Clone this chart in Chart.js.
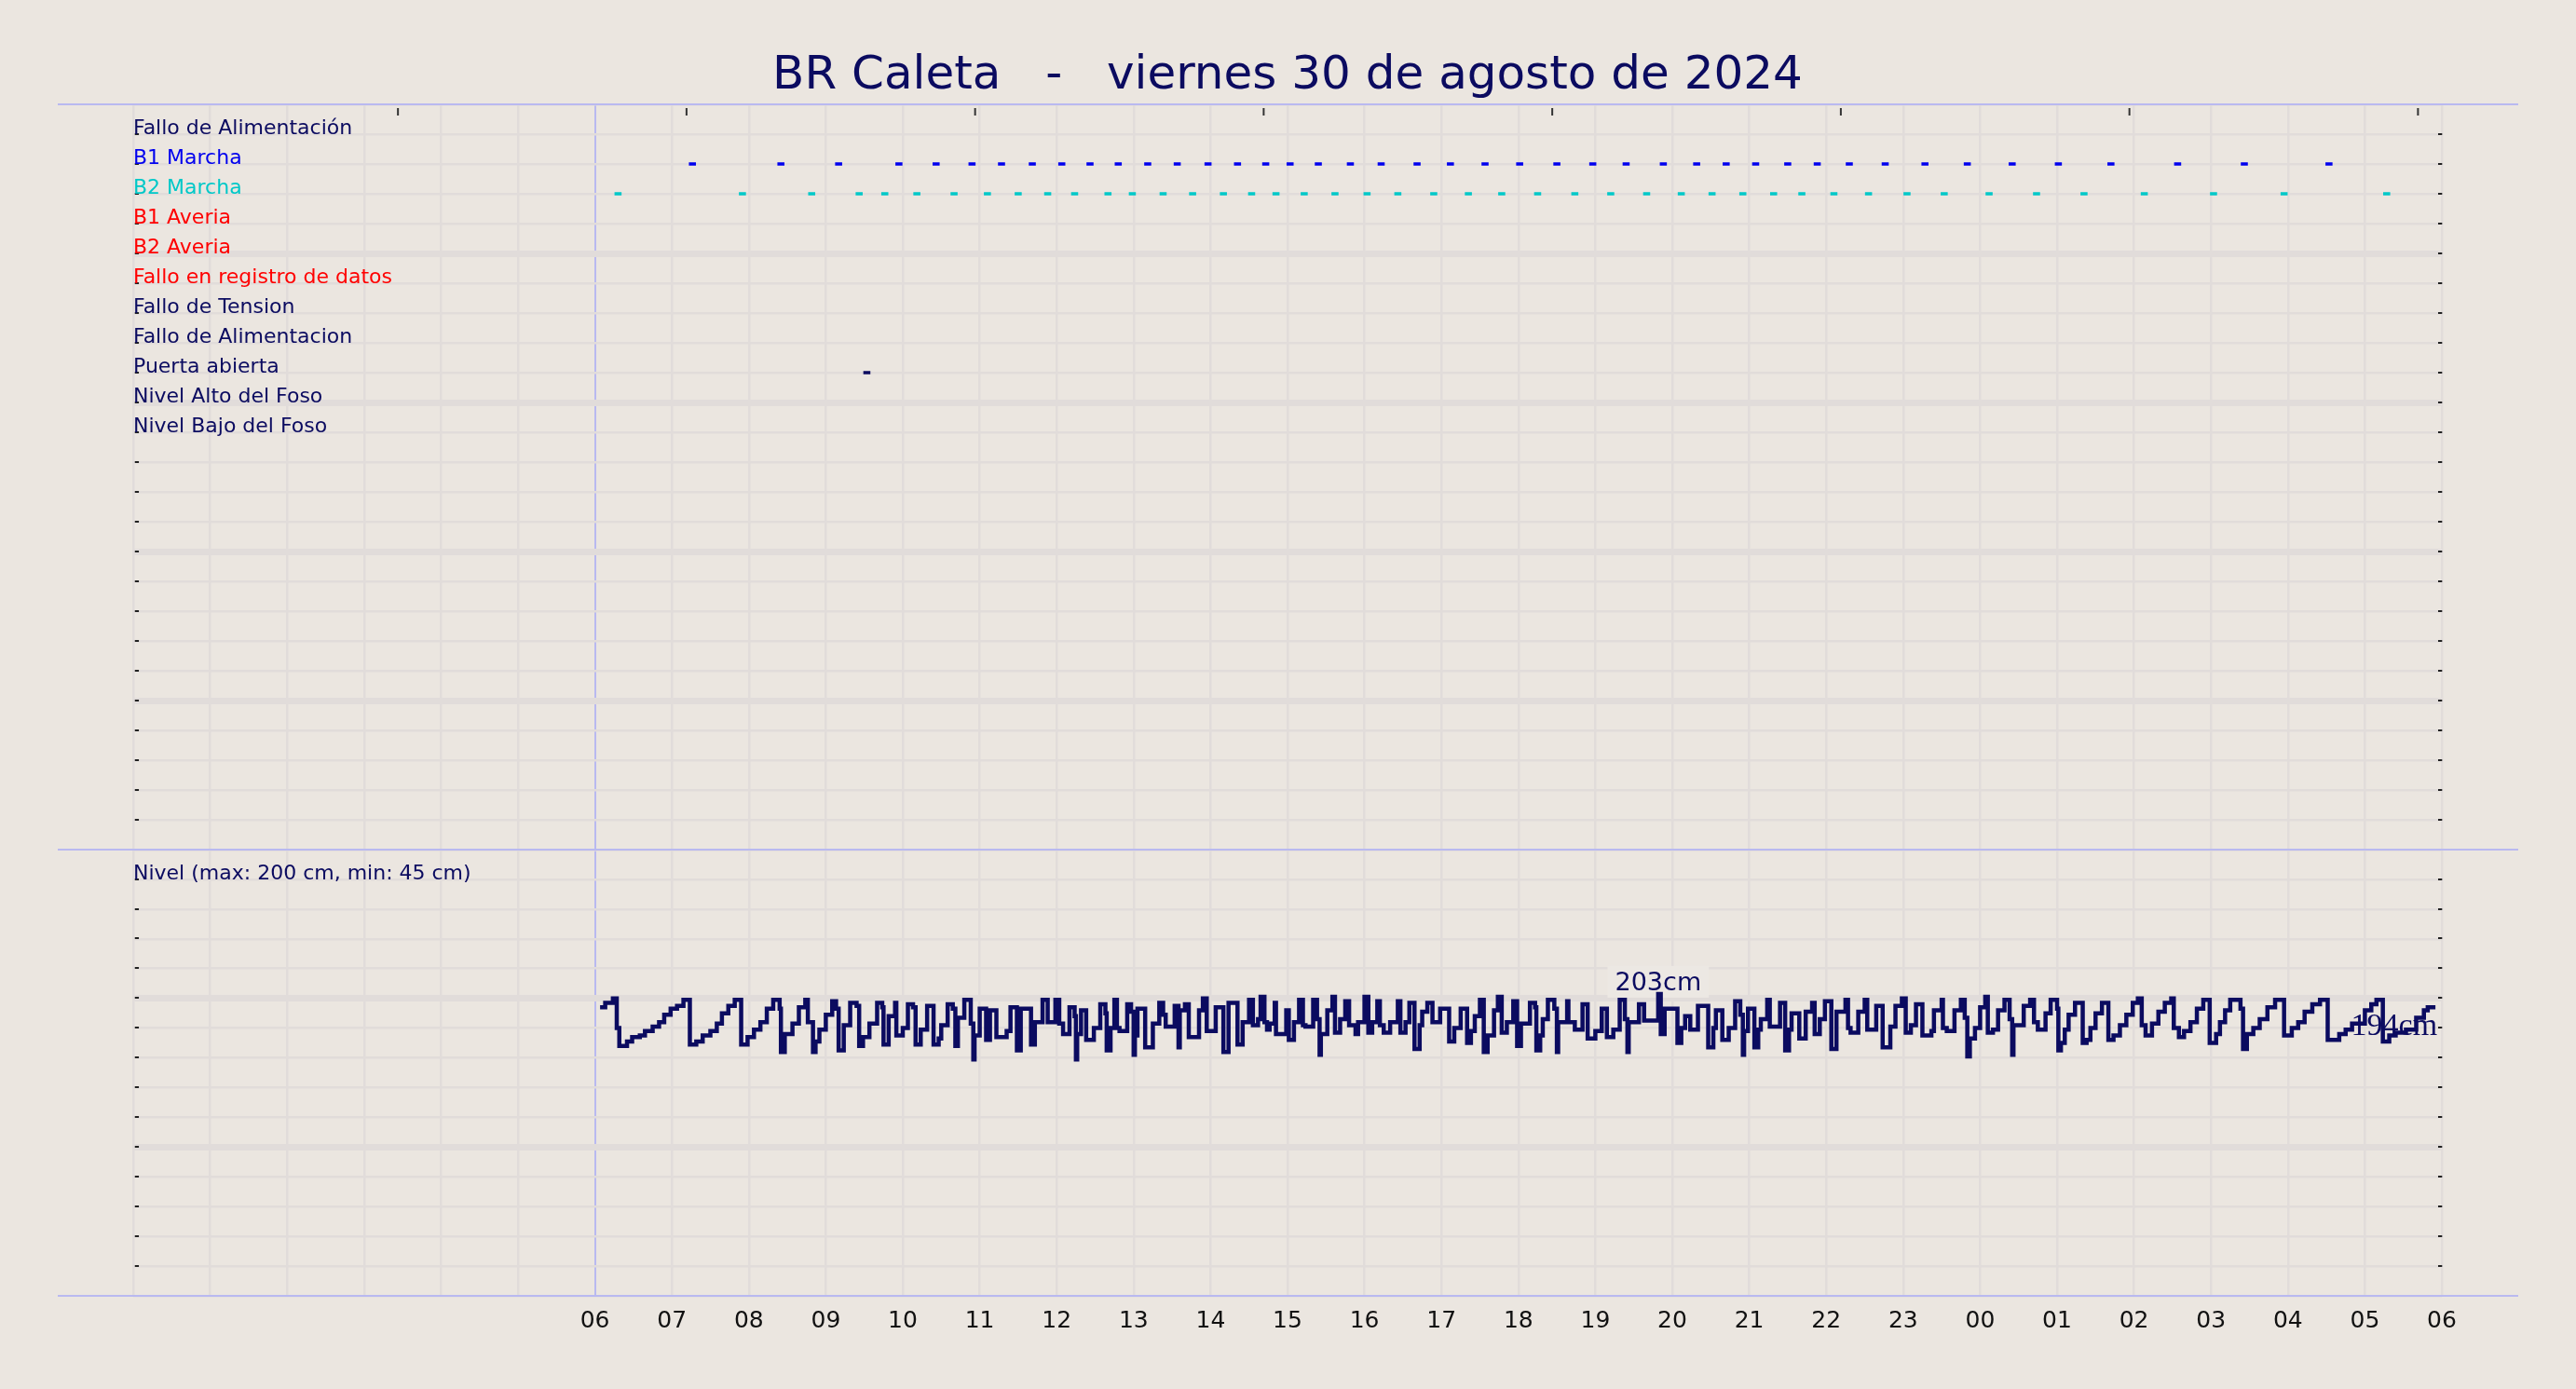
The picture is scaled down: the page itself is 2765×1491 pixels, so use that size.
<!DOCTYPE html>
<html>
<head>
<meta charset="utf-8">
<title>BR Caleta</title>
<script src="https://cdn.jsdelivr.net/npm/chart.js@4.4.1/dist/chart.umd.min.js"></script>
<style>
  html, body { margin: 0; padding: 0; background: #ebe6e0; }
  #wrap { position: relative; width: 2765px; height: 1491px; }
  canvas { position: absolute; left: 0; top: 0; }
</style>
</head>
<body>
<div id="wrap">
  <canvas id="chartLevel" width="2765" height="1491"></canvas>
  <canvas id="chartEvents" width="2765" height="1491"></canvas>
</div>
<script>
// --- datos ---
const title = "BR Caleta   -   viernes 30 de agosto de 2024";

const rowNames = ["Fallo de Alimentación", "B1 Marcha", "B2 Marcha", "B1 Averia", "B2 Averia",
  "Fallo en registro de datos", "Fallo de Tension", "Fallo de Alimentacion", "Puerta abierta",
  "Nivel Alto del Foso", "Nivel Bajo del Foso"];
const rowValues = [24, 23, 22, 21, 20, 19, 18, 17, 16, 15, 14];
const rowColors = ["#0b0b60", "#0000ee", "#00c8c8", "#ff0000", "#ff0000",
  "#ff0000", "#0b0b60", "#0b0b60", "#0b0b60", "#0b0b60", "#0b0b60"];

// eventos: minuto central desde las 00:00 del dia 30
const b1Marcha = [436, 505, 550, 597, 626, 654, 677, 701, 724, 746, 768, 791, 814, 838, 861, 883, 902, 924,
  949, 973, 1001, 1027, 1054, 1081, 1110, 1138, 1164, 1193, 1219, 1242, 1265, 1290, 1313, 1338, 1366,
  1397, 1430, 1465, 1501, 1542, 1594, 1646, 1712];
const b2Marcha = [378, 475, 529, 566, 586, 611, 640, 666, 690, 713, 734, 760, 779, 803, 826, 850, 872, 891,
  913, 937, 962, 986, 1014, 1041, 1067, 1095, 1124, 1152, 1180, 1207, 1231, 1255, 1279, 1301, 1326,
  1353, 1383, 1412, 1447, 1484, 1521, 1568, 1622, 1677, 1757];
const puertaAbierta = [572];
const dashMinutes = 5.5;

// nivel del foso (minuto, cm)
const levelMin = [
  364, 368, 374, 377, 379, 385, 389, 395, 399, 405, 410, 414, 419, 424, 429, 434, 439, 444, 450, 455,
  459, 464, 469, 474, 479, 484, 489, 494, 499, 504, 505, 508, 514, 519, 524, 526, 530, 532, 535, 540,
  545, 548, 550, 554, 559, 564, 566, 569, 574, 580, 584, 585, 589, 594, 595, 600,
  604, 608, 610, 614, 619, 624, 628, 630, 635, 639, 641, 643, 648, 653, 655, 656, 660, 665, 668, 673,
  681, 684, 689, 692, 700, 703, 709, 713, 719, 722, 725, 730, 734, 735, 736, 739, 743, 749, 754, 758,
  759, 762, 765, 767, 769, 775, 778, 780, 781, 783, 789, 795, 800, 803, 805, 812, 815, 816, 820, 823,
  831, 834, 837,
  844, 850, 854, 861, 865, 870, 873, 877, 879, 882, 884, 886, 890, 891, 899, 901, 905, 909, 912, 914,
  920, 923, 925, 926, 931, 935, 937, 941, 945, 948, 953, 955, 960, 963, 966, 970, 972, 975, 980, 986,
  988, 992, 995, 999, 1003, 1005, 1009, 1013, 1019, 1026, 1030, 1035, 1040, 1043, 1046, 1050, 1053, 1056,
  1061, 1064, 1067, 1071, 1076,
  1079, 1082, 1089, 1093, 1094, 1097, 1099, 1103, 1108, 1110, 1111, 1118, 1119, 1124, 1130, 1134, 1140,
  1145, 1149, 1154, 1159, 1163, 1165, 1166, 1174, 1178, 1189, 1191, 1194, 1204, 1207, 1210, 1214, 1220,
  1228, 1232, 1234, 1239, 1244, 1249, 1253, 1255, 1256, 1259, 1264, 1267, 1269, 1274, 1276, 1284, 1288,
  1291, 1293, 1299, 1304, 1309, 1311, 1315, 1319,
  1324, 1328, 1335, 1337, 1339, 1345, 1350, 1352, 1359, 1364, 1370, 1374, 1379, 1382, 1386, 1390, 1395,
  1402, 1404, 1410, 1411, 1414, 1420, 1425, 1428, 1430, 1432, 1436, 1440, 1444, 1446, 1450, 1454, 1459,
  1463, 1465, 1466, 1474, 1479, 1482, 1485, 1491, 1495, 1500, 1501, 1503, 1506, 1509, 1514, 1520, 1523,
  1526, 1530, 1535, 1540, 1544, 1549, 1554, 1559,
  1563, 1566, 1569, 1574, 1579, 1584, 1589, 1591, 1595, 1599, 1604, 1609, 1614, 1619, 1624, 1627, 1631,
  1635, 1643, 1645, 1648, 1653, 1658, 1664, 1670, 1677, 1683, 1688, 1693, 1699, 1705, 1711, 1720, 1725,
  1730, 1740, 1745, 1749, 1754, 1759, 1764, 1772, 1780, 1786, 1789, 1795];
const levelCm = [
  194, 197, 200, 180, 168, 171, 174, 175, 178, 181, 184, 189, 193, 195, 199, 169, 171, 175, 178, 183,
  190, 195, 199, 169, 174, 179, 184, 193, 199, 193, 164, 176, 183, 194, 199, 184, 164, 171, 179, 189,
  198, 193, 165, 182, 197, 195, 168, 174, 183, 197, 194, 169, 188, 197, 175, 180,
  196, 194, 169, 179, 195, 169, 173, 182, 196, 193, 168, 187, 199, 183, 159, 175, 193, 172, 192, 174,
  178, 194, 165, 193, 169, 184, 199, 184, 199, 183, 176, 194, 188, 159, 176, 192, 172, 180, 196, 190,
  165, 180, 199, 180, 178, 196, 191, 162, 175, 193, 167, 183, 197, 189, 181, 195, 167, 192, 196, 174,
  192, 200, 178,
  194, 164, 197, 169, 184, 199, 182, 186, 201, 184, 179, 183, 197, 176, 192, 172, 184, 199, 182, 181,
  199, 186, 162, 176, 192, 201, 177, 186, 198, 182, 176, 184, 201, 177, 184, 198, 182, 177, 184, 198,
  177, 184, 197, 166, 182, 191, 197, 184, 193, 171, 180, 193, 170, 178, 188, 199, 164, 175,
  192, 201, 177, 184, 198,
  168, 183, 197, 194, 165, 175, 186, 199, 193, 164, 184, 198, 184, 179, 196, 173, 178,
  193, 174, 179, 199, 186, 164, 184, 196, 185, 203, 176, 193, 170, 180, 188, 179, 195,
  167, 180, 192, 172, 180, 198, 189, 162, 178, 193, 167, 179, 186, 199, 181, 197, 165,
  179, 190, 173, 191, 197, 176, 186, 198,
  166, 191, 199, 180, 177, 191, 199, 179, 195, 167, 181, 195, 200, 177, 182, 196, 175,
  178, 192, 199, 180, 178, 192, 199, 187, 161, 173, 180, 194, 201, 177, 179, 192, 199,
  186, 162, 182, 195, 199, 184, 179, 190, 199, 193, 165, 170, 179, 189, 197, 170, 172,
  180, 190, 197, 172, 175, 182, 189, 197,
  200, 182, 175, 183, 191, 197, 200, 180, 174, 178, 184, 193, 199, 170, 176, 184, 192,
  199, 193, 166, 176, 180, 186, 194, 199, 175, 180, 184, 191, 196, 199, 172, 176, 179,
  183, 192, 196, 199, 171, 175, 177, 179, 187, 192, 194, 194];

const hourLabels = ["06", "07", "08", "09", "10", "11", "12", "13", "14", "15", "16", "17", "18",
  "19", "20", "21", "22", "23", "00", "01", "02", "03", "04", "05", "06"];
const topTickHours = [3.44, 7.19, 10.94, 14.69, 18.44, 22.19, 25.94, 29.69];
const nivelText = "Nivel (max: 200 cm, min: 45 cm)";

// --- estilo ---
const navy = "#0b0b60";
const gridColor = "#e1dcda";
const lavender = "#b9b9f0";
const FONT = "DejaVu Sans";

function dashes(mins, row) {
  const pts = [];
  mins.forEach(m => {
    const a = (m - dashMinutes / 2) / 60, b = (m + dashMinutes / 2) / 60;
    pts.push({ x: a, y: row }, { x: b, y: row }, { x: b, y: null });
  });
  return pts;
}

const xGrid = {
  color: c => (c.tick && c.tick.value === 6) ? lavender : gridColor,
  lineWidth: c => (c.tick && c.tick.value === 6) ? 2 : 2.5,
  drawTicks: false
};
const dashTicks = (maxV) => ({
  mirror: true, padding: 1,
  callback: v => (v > 0 && v < maxV) ? "-" : "",
  font: { family: FONT, size: 14, weight: "bold" }, color: "#222"
});

// lineas lila que cierran los paneles
const frameLines = {
  id: "frameLines",
  afterDraw(chart) {
    const { ctx, chartArea } = chart;
    ctx.save();
    ctx.strokeStyle = lavender;
    ctx.lineWidth = 2;
    [chartArea.top, chartArea.bottom].forEach(y => {
      ctx.beginPath(); ctx.moveTo(62, y); ctx.lineTo(2703, y); ctx.stroke();
    });
    ctx.restore();
  }
};

const rowLabels = {
  id: "rowLabels",
  afterDatasetsDraw(chart) {
    const { ctx, chartArea, scales } = chart;
    ctx.save();
    ctx.font = "22px " + FONT;
    ctx.textAlign = "left";
    ctx.textBaseline = "alphabetic";
    rowNames.forEach((name, i) => {
      ctx.fillStyle = rowColors[i];
      ctx.fillText(name, chartArea.left, scales.y.getPixelForValue(rowValues[i]));
    });
    // marcas arriba
    ctx.strokeStyle = "#333";
    ctx.lineWidth = 2;
    topTickHours.forEach(h => {
      const x = scales.x.getPixelForValue(h);
      ctx.beginPath(); ctx.moveTo(x, chartArea.top + 4); ctx.lineTo(x, chartArea.top + 12); ctx.stroke();
    });
    ctx.restore();
  }
};

const levelLabels = {
  id: "levelLabels",
  beforeDatasetsDraw(chart) {
    const { ctx, chartArea, scales } = chart;
    ctx.save();
    ctx.font = "22px " + FONT;
    ctx.fillStyle = navy;
    ctx.textAlign = "left";
    ctx.fillText(nivelText, chartArea.left, scales.y.getPixelForValue(280));
    // maximo
    const maxV = Math.max(...levelCm);
    const i = levelCm.indexOf(maxV);
    const px = scales.x.getPixelForValue(levelMin[i] / 60);
    const py = scales.y.getPixelForValue(maxV);
    ctx.font = "27px " + FONT;
    const txt = maxV + "cm";
    const w = ctx.measureText(txt).width;
    ctx.fillStyle = "#ece8e3";
    ctx.fillRect(px - w / 2 - 8, py - 30, w + 16, 34);
    ctx.fillStyle = navy;
    ctx.textAlign = "center";
    ctx.fillText(txt, px, py - 4);
    ctx.restore();
  },
  afterDatasetsDraw(chart) {
    const { ctx, scales } = chart;
    const n = levelCm.length - 1;
    const px = scales.x.getPixelForValue(levelMin[n] / 60);
    const py = scales.y.getPixelForValue(levelCm[n]);
    ctx.save();
    ctx.font = "34px 'Liberation Serif'";
    ctx.fillStyle = navy;
    ctx.textAlign = "right";
    ctx.fillText(levelCm[n] + "cm", px + 2, py + 30);
    ctx.restore();
  }
};

// --- panel de nivel ---
new Chart(document.getElementById("chartLevel"), {
  type: "line",
  data: {
    datasets: [{
      label: "Nivel",
      data: levelMin.map((m, i) => ({ x: m / 60, y: levelCm[i] })),
      stepped: true,
      borderColor: navy,
      borderWidth: 4.5,
      borderJoinStyle: "miter",
      pointRadius: 0,
      fill: false
    }]
  },
  options: {
    responsive: false,
    animation: false,
    devicePixelRatio: 1,
    layout: { padding: { left: 143, right: 144, top: 912, bottom: 0 } },
    plugins: { legend: { display: false }, tooltip: { enabled: false } },
    scales: {
      x: {
        type: "linear", min: 0, max: 30,
        ticks: {
          stepSize: 1, autoSkip: false, maxRotation: 0, padding: 12,
          callback: v => (Math.round(v) >= 6 ? hourLabels[Math.round(v) - 6] : ""),
          font: { family: FONT, size: 25 }, color: "#111"
        },
        grid: xGrid,
        border: { display: false },
        afterFit: s => { s.height = 100; }
      },
      y: {
        min: 0, max: 300,
        ticks: Object.assign({ stepSize: 20 }, dashTicks(300)),
        grid: {
          color: gridColor, drawTicks: false,
          lineWidth: c => (c.tick && (c.tick.value === 100 || c.tick.value === 200)) ? 7 : 2.5
        },
        border: { display: false },
        afterFit: s => { s.width = 0; }
      },
      yr: {
        position: "right", min: 0, max: 300,
        ticks: Object.assign({ stepSize: 20 }, dashTicks(300)),
        grid: { display: false, drawTicks: false },
        border: { display: false },
        afterFit: s => { s.width = 0; }
      }
    }
  },
  plugins: [frameLines, levelLabels]
});

// --- panel de eventos ---
const lineDs = (label, data, color) => ({
  label, data, showLine: true, borderColor: color, backgroundColor: color,
  borderWidth: 3.5, pointRadius: 0, spanGaps: false
});

new Chart(document.getElementById("chartEvents"), {
  type: "scatter",
  data: {
    datasets: [
      lineDs("B1 Marcha", dashes(b1Marcha, 23), "#0000ee"),
      lineDs("B2 Marcha", dashes(b2Marcha, 22), "#00c8c8"),
      lineDs("Puerta abierta", dashes(puertaAbierta, 16), navy)
    ]
  },
  options: {
    responsive: false,
    animation: false,
    devicePixelRatio: 1,
    layout: { padding: { left: 143, right: 144, top: 0, bottom: 579 } },
    plugins: {
      legend: { display: false },
      tooltip: { enabled: false },
      title: {
        display: true, text: title, color: navy,
        font: { family: FONT, size: 50, weight: "normal", lineHeight: 1.16 },
        padding: { top: 53, bottom: 1 }
      }
    },
    scales: {
      x: {
        type: "linear", min: 0, max: 30,
        ticks: { stepSize: 1, display: false },
        grid: xGrid,
        border: { display: false },
        afterFit: s => { s.height = 0; }
      },
      y: {
        min: 0, max: 25,
        ticks: Object.assign({ stepSize: 1 }, dashTicks(25)),
        grid: {
          color: gridColor, drawTicks: false,
          lineWidth: c => (c.tick && c.tick.value % 5 === 0 && c.tick.value > 0 && c.tick.value < 25) ? 7 : 2.5
        },
        border: { display: false },
        afterFit: s => { s.width = 0; }
      },
      yr: {
        position: "right", min: 0, max: 25,
        ticks: Object.assign({ stepSize: 1 }, dashTicks(25)),
        grid: { display: false, drawTicks: false },
        border: { display: false },
        afterFit: s => { s.width = 0; }
      }
    }
  },
  plugins: [frameLines, rowLabels]
});
</script>
</body>
</html>
